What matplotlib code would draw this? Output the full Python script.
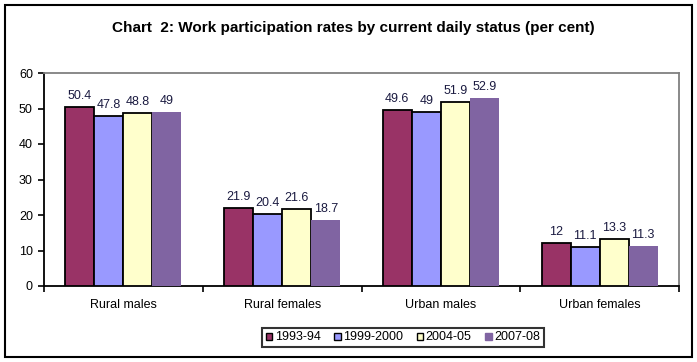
import matplotlib
matplotlib.use("Agg")
import matplotlib.pyplot as plt
import matplotlib.patches as mpatches
import numpy as np

categories = ["Rural males", "Rural females", "Urban males", "Urban females"]
periods = ["1993-94", "1999-2000", "2004-05", "2007-08"]
values = {
    "1993-94": [50.4, 21.9, 49.6, 12.0],
    "1999-2000": [47.8, 20.4, 49.0, 11.1],
    "2004-05": [48.8, 21.6, 51.9, 13.3],
    "2007-08": [49.0, 18.7, 52.9, 11.3],
}
colors = ["#993366", "#9999FF", "#FFFFCC", "#8064A2"]
edges = ["black", "black", "black", "none"]

plt.rcParams["font.family"] = ["Liberation Sans", "DejaVu Sans"]

fig = plt.figure(figsize=(6.97, 3.62), dpi=100)
ax = fig.add_axes([44 / 697, 1 - 286 / 362, (679 - 44) / 697, (286 - 73) / 362])

x = np.arange(len(categories))
w = 0.183
for i, p in enumerate(periods):
    xs = x + (i - 1.5) * w
    ax.bar(xs, values[p], width=w, color=colors[i],
           edgecolor=edges[i], linewidth=1.3, label=p, zorder=3)
    for xx, v in zip(xs, values[p]):
        ax.text(xx, v + 1.4, f"{v:g}", ha="center", va="bottom",
                fontsize=9, color="#1a1a40")

ax.set_xlim(-0.5, 3.5)
ax.set_ylim(0, 60)
ax.set_yticks(range(0, 61, 10))
ax.set_xticks(np.arange(-0.5, 4, 1))
ax.set_xticklabels([])
ax.set_xticks(x, minor=True)
ax.set_xticklabels(categories, minor=True)
ax.tick_params(axis="x", which="minor", length=0, pad=9, labelsize=9)
ax.tick_params(axis="x", which="major", length=4, width=1.2, direction="out")
ax.tick_params(axis="y", length=4, width=1.2, labelsize=9, pad=4)
for s in ["left", "bottom"]:
    ax.spines[s].set_color("black")
    ax.spines[s].set_linewidth(1.3)
for s in ["top", "right"]:
    ax.spines[s].set_color("#808080")
    ax.spines[s].set_linewidth(1.3)

fig.text(353 / 697, 1 - 28 / 362,
         "Chart  2: Work participation rates by current daily status (per cent)",
         ha="center", va="center", fontsize=11, fontweight="bold")

handles = [mpatches.Patch(facecolor=c, edgecolor=("black" if e != "none" else c),
                          linewidth=1.0, label=p)
           for c, e, p in zip(colors, edges, periods)]
leg = fig.legend(handles=handles, loc="center", ncol=4,
                 bbox_to_anchor=(403 / 697, 1 - 337.5 / 362),
                 fontsize=9, frameon=True, fancybox=False,
                 handlelength=0.5, handleheight=0.5, handletextpad=0.2,
                 columnspacing=1.1, borderpad=0.3, borderaxespad=0)
leg.get_frame().set_edgecolor("black")
leg.get_frame().set_linewidth(1.5)

border = mpatches.Rectangle((5 / 697, 5 / 362), 687 / 697, 352 / 362,
                            transform=fig.transFigure, fill=False,
                            edgecolor="black", linewidth=1.5)
fig.patches.append(border)

fig.savefig("out.png", dpi=100)
